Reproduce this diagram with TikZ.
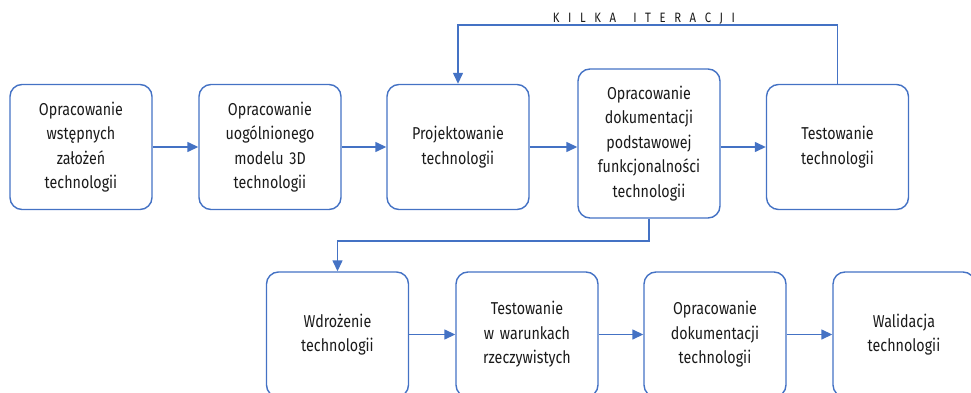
\documentclass[tikz,border=0pt]{standalone}
\usepackage{fontspec}
\setmainfont{Fira Sans}[FakeStretch=0.83]
\definecolor{flow}{HTML}{4472C4}
\definecolor{ink}{HTML}{1A1A1A}
\usetikzlibrary{arrows.meta,positioning}
\tikzset{
  >={Triangle[length=11pt,width=10pt]},
  stage/.style={draw=flow,rounded corners=12pt,line width=1.4pt,minimum width=142pt,minimum height=125pt,text width=132pt,align=center,inner sep=0pt,text=ink,font=\fontsize{17.2}{24.5}\selectfont},
  flowarr/.style={->,draw=flow,line width=1.4pt},
  looplab/.style={text=ink,font=\fontsize{13.6}{15}\selectfont},
}
\newcommand\gap{\hspace{8.6pt}}

\begin{document}
\begin{tikzpicture}[x=1pt,y=-1pt]
\clip (0,0) rectangle (971,393);
% first row
\node[stage] (b1) at (81,147) {Opracowanie\\wstępnych\\założeń\\technologii};
\node[stage] (b2) at (270,147) {Opracowanie\\uogólnionego\\modelu 3D\\technologii};
\node[stage] (b3) at (458,147) {Projektowanie\\technologii};
\node[stage,minimum height=149pt] (b4) at (649,143.5) {Opracowanie\\dokumentacji\\podstawowej\\funkcjonalności\\technologii};
\node[stage] (b5) at (837.5,147) {Testowanie\\technologii};
% second row
\node[stage] (b6) at (337.5,334.5) {Wdrożenie\\technologii};
\node[stage] (b7) at (527,334.5) {Testowanie\\w warunkach\\rzeczywistych};
\node[stage] (b8) at (715,334.5) {Opracowanie\\dokumentacji\\technologii};
\node[stage] (b9) at (904,334.5) {Walidacja\\technologii};

\draw[flowarr] (b1) -- (b2);
\draw[flowarr] (b2) -- (b3);
\draw[flowarr] (b3.east) -- (b3.east -| b4.west);
\draw[flowarr] (b4.east |- b5.west) -- (b5.west);
\draw[flowarr] (b6) -- (b7);
\draw[flowarr] (b7) -- (b8);
\draw[flowarr] (b8) -- (b9);

% loop back and drop to second row
\coordinate (loop) at (645,25);
\coordinate (drop) at (500,241);
\draw[flowarr] (b5.north) |- (loop) -| (b3.north);
\node[looplab,anchor=base] (iter) at (644,22.5) {K\gap I\gap L\gap K\gap A\gap\gap I\gap T\gap E\gap R\gap A\gap C\gap J\gap I};
\draw[flowarr] (b4.south) |- (drop) -| (b6.north);
\end{tikzpicture}
\end{document}
